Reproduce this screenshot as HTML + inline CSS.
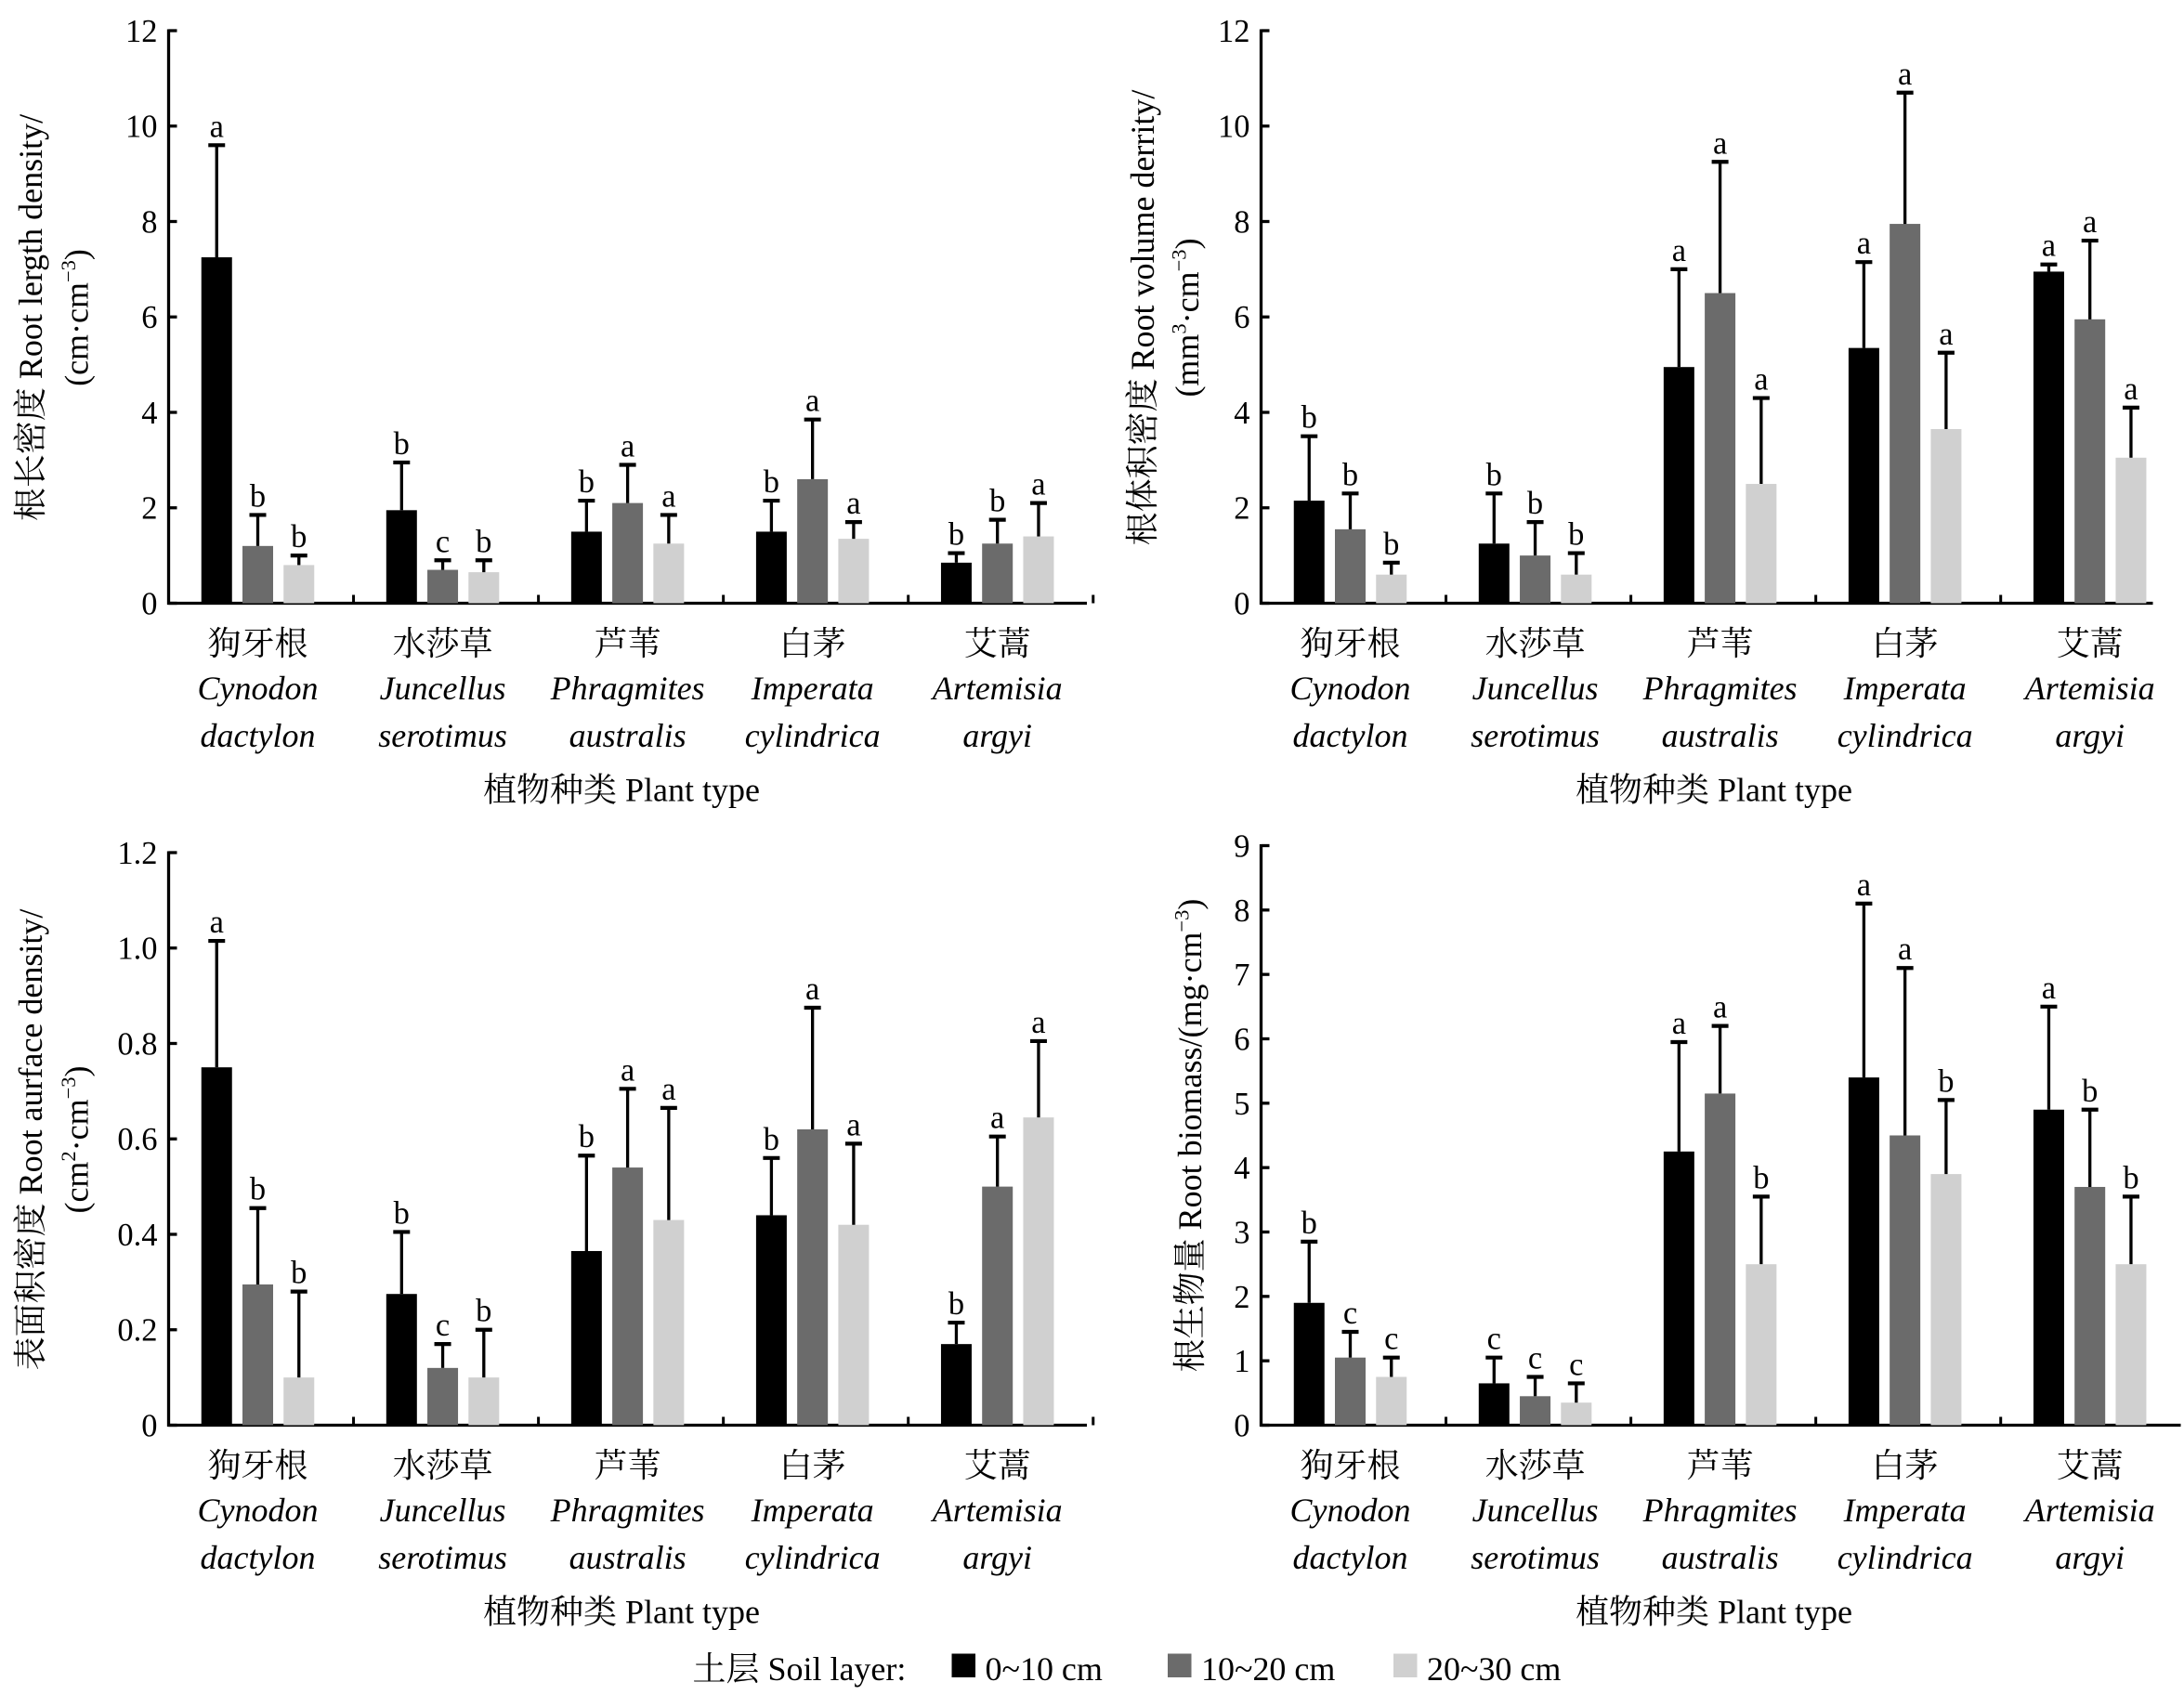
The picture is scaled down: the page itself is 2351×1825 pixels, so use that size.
<!DOCTYPE html>
<html><head><meta charset="utf-8"><style>
html,body{margin:0;padding:0;background:#fff}
svg{display:block}
text{font-family:"Liberation Serif","Noto Serif CJK SC",serif;fill:#000}
</style></head><body>
<svg id="chart" width="2351" height="1825" viewBox="0 0 1567.33 1216.67" xmlns="http://www.w3.org/2000/svg"></svg>
<script>
const zhNames = ['狗牙根','水莎草','芦苇','白茅','艾蒿'];
const latin1 = ['Cynodon','Juncellus','Phragmites','Imperata','Artemisia'];
const latin2 = ['dactylon','serotimus','australis','cylindrica','argyi'];
const layers = ['0~10 cm','10~20 cm','20~30 cm'];
const colors = ['#000000','#6b6b6b','#d0d0d0'];

// Root length density
const rldMean = [[7.25,1.2,0.8],[1.95,0.7,0.65],[1.5,2.1,1.25],[1.5,2.6,1.35],[0.85,1.25,1.4]];
const rldErr  = [[9.6,1.85,1.0],[2.95,0.9,0.9],[2.15,2.9,1.85],[2.15,3.85,1.7],[1.05,1.75,2.1]];
const rldSig  = [['a','b','b'],['b','c','b'],['b','a','a'],['b','a','a'],['b','b','a']];
const rldTicks = ['0','2','4','6','8','10','12'];
// Root volume density
const rvdMean = [[2.15,1.55,0.6],[1.25,1.0,0.6],[4.95,6.5,2.5],[5.35,7.95,3.65],[6.95,5.95,3.05]];
const rvdErr  = [[3.5,2.3,0.85],[2.3,1.7,1.05],[7.0,9.25,4.3],[7.15,10.7,5.25],[7.1,7.6,4.1]];
const rvdSig  = [['b','b','b'],['b','b','b'],['a','a','a'],['a','a','a'],['a','a','a']];
const rvdTicks = ['0','2','4','6','8','10','12'];
// Root surface density
const rsdMean = [[0.75,0.295,0.1],[0.275,0.12,0.1],[0.365,0.54,0.43],[0.44,0.62,0.42],[0.17,0.5,0.645]];
const rsdErr  = [[1.015,0.455,0.28],[0.405,0.17,0.2],[0.565,0.705,0.665],[0.56,0.875,0.59],[0.215,0.605,0.805]];
const rsdSig  = [['a','b','b'],['b','c','b'],['b','a','a'],['b','a','a'],['b','a','a']];
const rsdTicks = ['0','0.2','0.4','0.6','0.8','1.0','1.2'];
// Root biomass
const rbMean = [[1.9,1.05,0.75],[0.65,0.45,0.35],[4.25,5.15,2.5],[5.4,4.5,3.9],[4.9,3.7,2.5]];
const rbErr  = [[2.85,1.45,1.05],[1.05,0.75,0.65],[5.95,6.2,3.55],[8.1,7.1,5.05],[6.5,4.9,3.55]];
const rbSig  = [['b','c','c'],['c','c','c'],['a','a','b'],['a','a','b'],['a','b','b']];
const rbTicks = ['0','1','2','3','4','5','6','7','8','9'];

const svg = document.getElementById('chart');
const NS = 'http://www.w3.org/2000/svg';
function mk(tag, attrs, parent){const e=document.createElementNS(NS,tag);for(const k in attrs)e.setAttribute(k,attrs[k]);(parent||svg).appendChild(e);return e;}
function txt(s, attrs, parent){const e=mk('text',attrs,parent);e.textContent=s;return e;}

function panel(o){
  const g = mk('g',{});
  
  
  const yMax = parseFloat(o.ticks[o.ticks.length-1]);
  const y = v => o.y0 - (v / yMax) * (o.y0 - o.yTop);
  const groupW = 132.7;
  const cx = i => o.x0 + 64 + i*groupW;
  // axes
  const ax = mk('line',{x1:o.x0,y1:o.yTop-1,x2:o.x0,y2:o.y0+1,stroke:'#000','stroke-width':2.2},g);
  
  
  const xa = mk('line',{x1:o.x0-1,y1:o.y0,x2:o.xEnd,y2:o.y0,stroke:'#000','stroke-width':2.2},g);
  
  
  o.ticks.forEach(t=>{
    const yy = y(parseFloat(t));
    mk('line',{x1:o.x0,y1:yy,x2:o.x0+6,y2:yy,stroke:'#000','stroke-width':2.2},g);
    const tl = txt(t,{x:o.x0-8,y:yy+8,'text-anchor':'end','font-size':23},g);
    
    
  });
  for(let i=1;i<=5;i++){
    const xx = o.x0 + i*groupW;
    mk('line',{x1:xx,y1:o.y0,x2:xx,y2:o.y0-6,stroke:'#000','stroke-width':2},g);
  }
  o.mean.forEach((row,i)=>{
    row.forEach((v,j)=>{
      const bx = cx(i) + (j-1)*29.5;
      const b = mk('rect',{x:bx-11,y:y(v),width:22,height:o.y0-y(v),fill:colors[j]},g);
      
      
      const et = y(o.err[i][j]);
      mk('line',{x1:bx,y1:y(v),x2:bx,y2:et,stroke:'#000','stroke-width':2.2},g);
      mk('line',{x1:bx-6,y1:et,x2:bx+6,y2:et,stroke:'#000','stroke-width':2.8},g);
      const s = txt(o.sig[i][j],{x:bx,y:et-6,'text-anchor':'middle','font-size':23},g);
      
      
    });
    const c = cx(i);
    const a = txt(zhNames[i],{x:c,y:o.y0+37,'text-anchor':'middle','font-size':24},g);
    
    
    const b2 = txt(latin1[i],{x:c,y:o.y0+69,'text-anchor':'middle','font-size':24,'font-style':'italic'},g);
    
    
    const c2 = txt(latin2[i],{x:c,y:o.y0+103,'text-anchor':'middle','font-size':24,'font-style':'italic'},g);
    
    
  });
  const xt = txt('植物种类 Plant type',{x:o.x0+325,y:o.y0+142,'text-anchor':'middle','font-size':24},g);
  
  
  o.ytitle.forEach((line,k)=>{
    const tx = o.ytx[k];
    const t = mk('text',{x:0,y:0,'text-anchor':'middle','font-size':24,transform:`translate(${tx},${o.ytc}) rotate(-90)`},g);
    t.innerHTML = line;
    
    
  });
}

panel({name:'root-length-density-chart',x0:121,xEnd:780,y0:433,yTop:22,ticks:rldTicks,mean:rldMean,err:rldErr,sig:rldSig,
  ytitle:['根长密度 Root lergth density/','(cm·cm<tspan dy="-9" font-size="15">−3</tspan><tspan dy="9">)</tspan>'],ytx:[30,63],ytc:228});
panel({name:'root-volume-density-chart',x0:905,xEnd:1545,y0:433,yTop:22,ticks:rvdTicks,mean:rvdMean,err:rvdErr,sig:rvdSig,
  ytitle:['根体积密度 Root volume derrity/','(mm<tspan dy="-9" font-size="15">3</tspan><tspan dy="9">·cm</tspan><tspan dy="-9" font-size="15">−3</tspan><tspan dy="9">)</tspan>'],ytx:[828,860],ytc:228});
panel({name:'root-surface-density-chart',x0:121,xEnd:780,y0:1023,yTop:612,ticks:rsdTicks,mean:rsdMean,err:rsdErr,sig:rsdSig,
  ytitle:['表面积密度 Root aurface density/','(cm<tspan dy="-9" font-size="15">2</tspan><tspan dy="9">·cm</tspan><tspan dy="-9" font-size="15">−3</tspan><tspan dy="9">)</tspan>'],ytx:[30,63],ytc:818});
panel({name:'root-biomass-chart',x0:905,xEnd:1565,y0:1023,yTop:607,ticks:rbTicks,mean:rbMean,err:rbErr,sig:rbSig,
  ytitle:['根生物量 Root biomass/(mg·cm<tspan dy="-9" font-size="15">−3</tspan><tspan dy="9">)</tspan>'],ytx:[862],ytc:815});

// legend
const lg = mk('g',{});


const lt = txt('土层 Soil layer:',{x:497,y:1206,'font-size':24},lg);


const lx = [683,838,1000];
layers.forEach((l,j)=>{
  const r = mk('rect',{x:lx[j],y:1187,width:17,height:17,fill:colors[j]},lg);
  
  
  const t = txt(l,{x:lx[j]+24,y:1206,'font-size':24},lg);
  
  
});
</script>
</body></html>
